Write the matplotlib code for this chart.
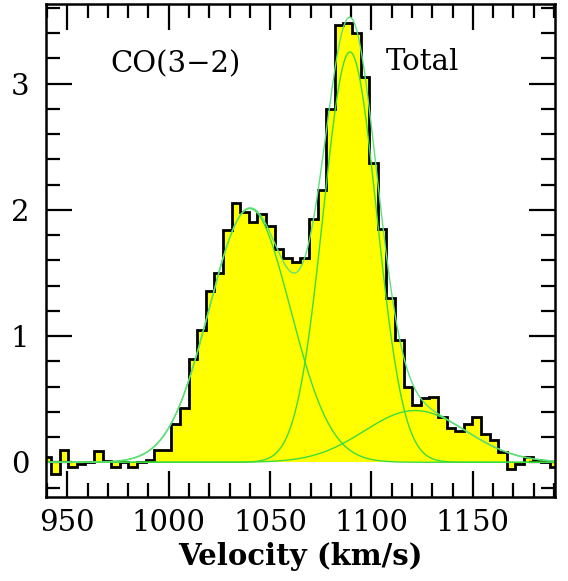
import numpy as np
import matplotlib
matplotlib.use('Agg')
from matplotlib import pyplot as plt
from matplotlib.ticker import MultipleLocator

# channel edges of the spectrum (km/s), 4.24 km/s channels
chan_width = 4.24
edges = 937.76 + chan_width * np.arange(61)

# CO(3-2) flux per channel
flux = [0.04, -0.09, 0.10, -0.04, -0.01, 0.00, 0.09, 0.01, -0.04, 0.00,
        -0.04, 0.00, 0.02, 0.10, 0.10, 0.30, 0.43, 0.82, 1.05, 1.36,
        1.50, 1.84, 2.05, 1.98, 1.90, 1.97, 1.87, 1.69, 1.62, 1.59,
        1.62, 1.93, 2.16, 2.80, 3.46, 3.48, 3.40, 3.05, 2.37, 1.85,
        1.30, 0.97, 0.60, 0.45, 0.51, 0.52, 0.36, 0.27, 0.25, 0.30,
        0.36, 0.22, 0.18, 0.08, -0.05, -0.01, 0.04, 0.02, 0.005, -0.035]

# gaussian fit components: amplitude, centre, sigma
amps = [2.01, 3.25, 0.41]
centres = [1040.0, 1089.4, 1121.5]
sigmas = [20.0, 13.2, 25.0]

v = np.linspace(935, 1195, 800)
comps = [a * np.exp(-(v - c)**2 / (2 * s**2)) for a, c, s in zip(amps, centres, sigmas)]
total = np.sum(comps, axis=0)

fig = plt.figure(figsize=(5.68, 5.81), dpi=100)
ax = fig.add_axes([0.081, 0.1446, 0.896, 0.8485])

ax.stairs(flux, edges, baseline=0, fill=True, color='#ffff00', lw=0)
ax.stairs(flux, edges, baseline=None, color='black', lw=2)

green = '#3cdc3c'
for c in comps:
    ax.plot(v, c, color=green, lw=1)
ax.plot(v, total, color='#5fe07a', lw=1)

ax.set_xlim(939.5, 1190.5)
ax.set_ylim(-0.275, 3.63)

ax.xaxis.set_major_locator(MultipleLocator(50))
ax.xaxis.set_minor_locator(MultipleLocator(10))
ax.yaxis.set_major_locator(MultipleLocator(1))
ax.yaxis.set_minor_locator(MultipleLocator(0.2))
ax.tick_params(which='both', direction='in', top=True, right=True, width=1.6, colors='black')
ax.tick_params(which='major', length=19)
ax.tick_params(which='minor', length=10)
ax.tick_params(axis='x', which='major', pad=9)
ax.tick_params(axis='y', which='major', pad=12)
for sp in ax.spines.values():
    sp.set_linewidth(1.8)

for lab in ax.get_xticklabels() + ax.get_yticklabels():
    lab.set_family('DejaVu Serif')
    lab.set_fontsize(21)

ax.set_xlabel('Velocity (km/s)', family='DejaVu Serif', fontsize=21,
              fontweight='bold', labelpad=3)

ax.text(971, 3.15, 'CO(3\u22122)', family='DejaVu Serif', fontsize=21, va='center')
ax.text(1107, 3.17, 'Total', family='DejaVu Serif', fontsize=21, va='center')

plt.savefig('out.png', dpi=100)
